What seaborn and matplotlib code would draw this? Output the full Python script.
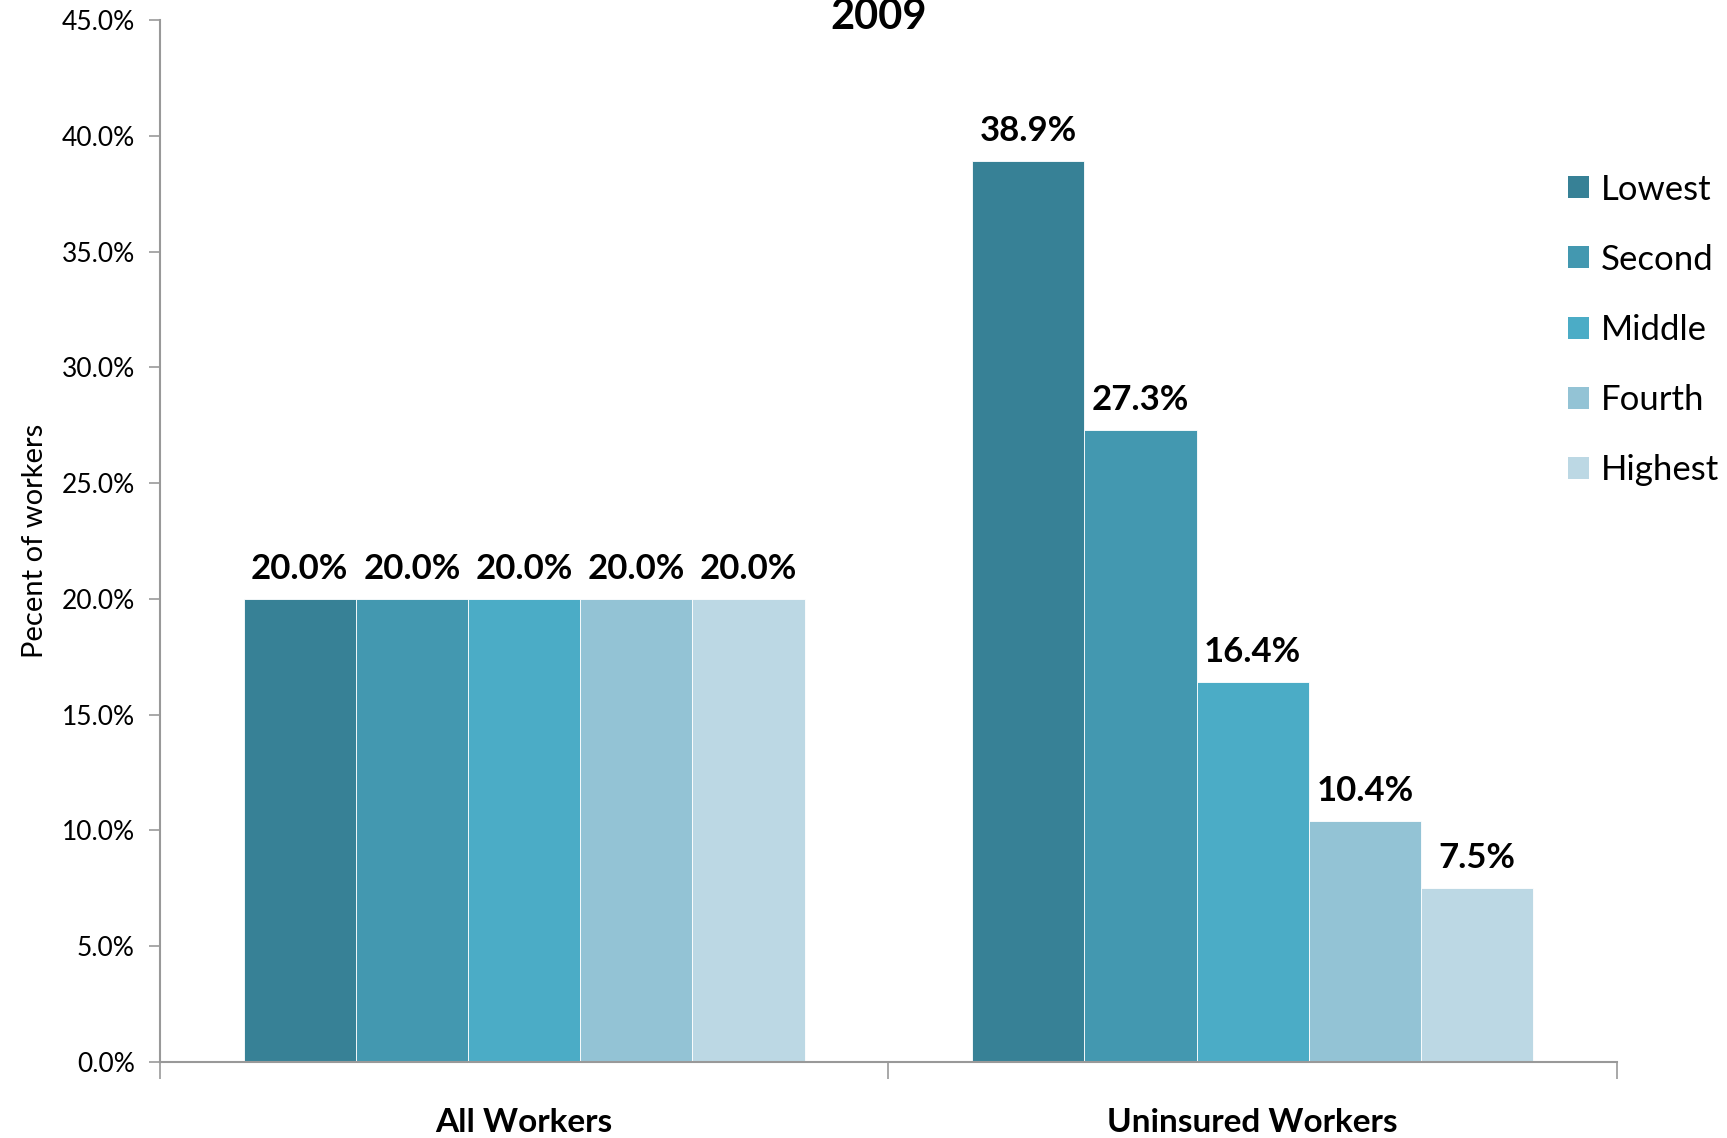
import pandas as pd
import numpy as np
import matplotlib.pyplot as plt
import seaborn as sns
from matplotlib.patches import Patch

groups = ["All Workers", "Uninsured Workers"]
quintiles = ["Lowest", "Second", "Middle", "Fourth", "Highest"]
all_workers = [20.0, 20.0, 20.0, 20.0, 20.0]
uninsured = [38.9, 27.3, 16.4, 10.4, 7.5]
colors = ["#378196", "#4398B0", "#4BACC6", "#93C3D5", "#BCD8E4"]
yticks = np.arange(0, 45.1, 5)

df = pd.DataFrame({
    "group": [groups[0]] * 5 + [groups[1]] * 5,
    "quintile": quintiles * 2,
    "pct": all_workers + uninsured,
})

sns.set_style("white")
plt.rcParams['font.family'] = ['Lato', 'DejaVu Sans']
plt.rcParams['text.color'] = 'black'
plt.rcParams['axes.labelcolor'] = 'black'
plt.rcParams['xtick.labelcolor'] = 'black'
plt.rcParams['ytick.labelcolor'] = 'black'

fig = plt.figure(figsize=(17.27, 11.38), dpi=100)
ax = fig.add_axes([0.0926, 0.0668, 0.8437, 0.9156])

sns.barplot(data=df, x="group", y="pct", hue="quintile", hue_order=quintiles,
            palette=colors, width=0.77, gap=0, saturation=1, errorbar=None,
            edgecolor="white", linewidth=0.6, ax=ax, legend=False)

for c in ax.containers:
    ax.bar_label(c, labels=[f"{v:.1f}%" for v in c.datavalues], padding=10,
                 fontsize=25, fontweight="bold")

ax.set_ylim(0, 45)
ax.set_xlim(-0.5, 1.5)
ax.set_yticks(yticks)
ax.set_yticklabels([f"{v:.1f}%" for v in yticks], fontsize=19)
ax.set_xticks([-0.5, 0.5, 1.5], minor=True)
ax.set_xticks([0, 1])
ax.set_xticklabels(groups, fontsize=24, fontweight="bold")
ax.tick_params(axis="x", which="major", bottom=True, length=0, pad=33)
ax.tick_params(axis="x", which="minor", bottom=True, length=12, color="#999999", width=1.2, direction="out")
ax.tick_params(axis="y", left=True, length=8, color="#999999", width=1.2, direction="out", pad=10)
ax.set_xlabel("")
ax.set_ylabel("Pecent of workers", fontsize=21, labelpad=10)

for s in ["top", "right"]:
    ax.spines[s].set_visible(False)
for s in ["left", "bottom"]:
    ax.spines[s].set_color("#999999")
    ax.spines[s].set_linewidth(1.5)

fig.text(0.509, 0.985, "2009", fontsize=30, fontweight="bold", ha="center", va="center")

handles = [Patch(facecolor=c, edgecolor="none") for c in colors]
fig.legend(handles, quintiles, loc="upper left", bbox_to_anchor=(0.89, 0.875),
           frameon=False, fontsize=25, handlelength=0.6, handleheight=0.6,
           handletextpad=0.35, labelspacing=1.1)

fig.savefig("out.png", dpi=100)
